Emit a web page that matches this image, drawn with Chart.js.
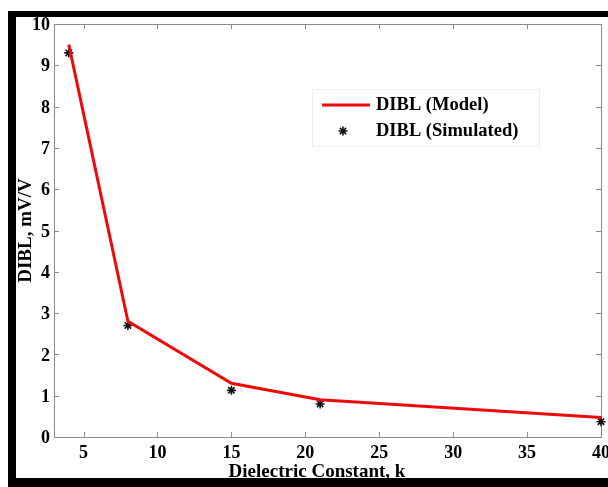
<!DOCTYPE html>
<html>
<head>
<meta charset="utf-8">
<script src="https://cdn.jsdelivr.net/npm/chart.js@4.4.0/dist/chart.umd.min.js"></script>
<style>
  html, body { margin: 0; padding: 0; background: #fff; }
  #wrap { width: 608px; height: 487px; }
</style>
</head>
<body>
<div id="wrap"><canvas id="c" width="608" height="487"></canvas></div>
<script>
// Gate dielectric constant vs. DIBL
const dielectricK   = [4, 8, 15, 21, 40];
const diblModel     = [9.5, 2.8, 1.3, 0.9, 0.47];
const diblSimulated = [9.3, 2.7, 1.13, 0.8, 0.37];
const xTickValues   = [5, 10, 15, 20, 25, 30, 35, 40];
const yTickValues   = [0, 1, 2, 3, 4, 5, 6, 7, 8, 9, 10];
const seriesNames   = ['DIBL (Model)', 'DIBL (Simulated)'];
const xAxisTitle    = 'Dielectric Constant, k';
const yAxisTitle    = 'DIBL, mV/V';

const SERIF = '"Liberation Serif", "Times New Roman", serif';
const RED = '#ee0a0a';
const AXIS_GREY = '#8a8a8a';

const toPoints = (xs, ys) => xs.map((x, i) => ({ x: x, y: ys[i] }));

function starAt(ctx, x, y, r, lw, color) {
  ctx.save();
  ctx.strokeStyle = color;
  ctx.lineWidth = lw;
  ctx.beginPath();
  for (let k = 0; k < 4; k++) {
    const a = k * Math.PI / 4;
    ctx.moveTo(x - r * Math.cos(a), y - r * Math.sin(a));
    ctx.lineTo(x + r * Math.cos(a), y + r * Math.sin(a));
  }
  ctx.stroke();
  ctx.restore();
}

// Boxed axes with inward ticks on all four sides
const boxAxes = {
  id: 'boxAxes',
  beforeDatasetsDraw(chart) {
    const { ctx, chartArea: a, scales: { x, y } } = chart;
    const len = 5;
    ctx.save();
    ctx.strokeStyle = AXIS_GREY;
    ctx.lineWidth = 1;
    ctx.strokeRect(a.left + 0.5, a.top + 0.5, a.right - a.left, a.bottom - a.top);
    ctx.beginPath();
    xTickValues.forEach(v => {
      const px = Math.round(x.getPixelForValue(v)) + 0.5;
      ctx.moveTo(px, a.bottom); ctx.lineTo(px, a.bottom - len);
      ctx.moveTo(px, a.top);    ctx.lineTo(px, a.top + len);
    });
    yTickValues.forEach(v => {
      const py = Math.round(y.getPixelForValue(v)) + 0.5;
      ctx.moveTo(a.left, py);  ctx.lineTo(a.left + len, py);
      ctx.moveTo(a.right, py); ctx.lineTo(a.right - len, py);
    });
    ctx.stroke();
    ctx.restore();
  }
};

// Legend box inside the plot
const innerLegend = {
  id: 'innerLegend',
  afterDatasetsDraw(chart) {
    const { ctx } = chart;
    const ds = chart.data.datasets;
    ctx.save();
    ctx.fillStyle = '#fff';
    ctx.fillRect(312, 89, 227, 57);
    ctx.strokeStyle = '#ececec';
    ctx.lineWidth = 1;
    ctx.strokeRect(312.5, 89.5, 227, 57);
    // row 1: line sample
    ctx.strokeStyle = ds[0].borderColor;
    ctx.lineWidth = ds[0].borderWidth;
    ctx.beginPath();
    ctx.moveTo(322, 105); ctx.lineTo(370, 105);
    ctx.stroke();
    // row 2: marker sample
    starAt(ctx, 343, 131, ds[1].pointRadius, ds[1].borderWidth, ds[1].borderColor);
    ctx.fillStyle = '#000';
    ctx.font = 'bold 18.5px ' + SERIF;
    ctx.textAlign = 'left';
    ctx.textBaseline = 'middle';
    ctx.fillText(ds[0].label, 376, 105);
    ctx.fillText(ds[1].label, 376, 131);
    ctx.restore();
  }
};

// Horizontal axis title, set a little left of the plot centre
const xTitle = {
  id: 'xTitle',
  afterDraw(chart) {
    const { ctx } = chart;
    ctx.save();
    ctx.fillStyle = '#000';
    ctx.font = 'bold 19px ' + SERIF;
    ctx.textAlign = 'center';
    ctx.textBaseline = 'alphabetic';
    ctx.fillText(xAxisTitle, 317, 477);
    ctx.restore();
  }
};

// Black outer frame
const outerFrame = {
  id: 'outerFrame',
  afterDraw(chart) {
    const { ctx } = chart;
    ctx.save();
    ctx.fillStyle = '#000';
    ctx.fillRect(8, 11, 600, 6);
    ctx.fillRect(8, 11, 8, 476);
    ctx.fillRect(8, 478, 600, 9);
    ctx.restore();
  }
};

new Chart(document.getElementById('c'), {
  type: 'line',
  data: {
    datasets: [
      {
        label: seriesNames[0],
        data: toPoints(dielectricK, diblModel),
        borderColor: RED,
        backgroundColor: RED,
        borderWidth: 3,
        pointRadius: 0,
        tension: 0,
        fill: false,
        clip: false
      },
      {
        label: seriesNames[1],
        data: toPoints(dielectricK, diblSimulated),
        showLine: false,
        pointStyle: 'star',
        pointRadius: 4.5,
        borderWidth: 1.6,
        borderColor: '#111',
        backgroundColor: '#111',
        clip: false
      }
    ]
  },
  options: {
    responsive: false,
    animation: false,
    devicePixelRatio: 1,
    layout: { padding: { top: 24, right: 7, left: 0, bottom: 0 } },
    plugins: { legend: { display: false }, tooltip: { enabled: false } },
    scales: {
      x: {
        type: 'linear',
        min: 3,
        max: 40,
        afterBuildTicks: s => { s.ticks = xTickValues.map(v => ({ value: v })); },
        afterFit: s => { s.height = 50; s.paddingLeft = 0; s.paddingRight = 0; },
        grid: { display: false, drawTicks: false },
        border: { display: false },
        ticks: {
          color: '#000',
          font: { family: SERIF, size: 18, weight: 'bold' },
          padding: 6,
          maxRotation: 0,
          autoSkip: false
        },
        title: { display: false }
      },
      y: {
        type: 'linear',
        min: 0,
        max: 10,
        afterBuildTicks: s => { s.ticks = yTickValues.map(v => ({ value: v })); },
        afterFit: s => { s.width = 54; },
        grid: { display: false, drawTicks: false },
        border: { display: false },
        ticks: {
          color: '#000',
          font: { family: SERIF, size: 18, weight: 'bold' },
          padding: 4,
          labelOffset: 1.5,
          autoSkip: false
        },
        title: {
          display: true,
          text: yAxisTitle,
          color: '#000',
          font: { family: SERIF, size: 19, weight: 'bold', lineHeight: 1.2 },
          padding: { top: 15, bottom: 0 }
        }
      }
    }
  },
  plugins: [boxAxes, innerLegend, xTitle, outerFrame]
});
</script>
</body>
</html>
